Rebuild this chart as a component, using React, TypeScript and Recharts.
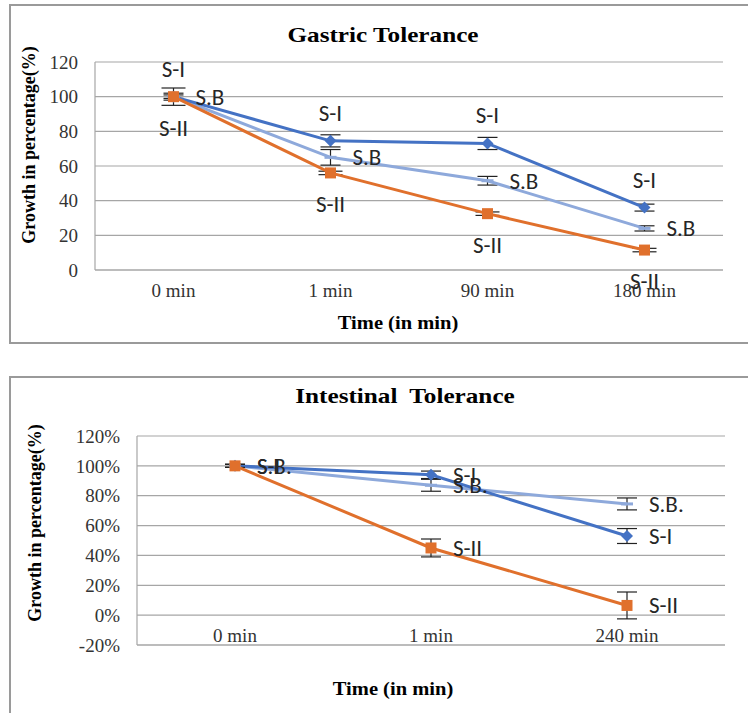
import React from 'react';
import { LineChart, Line, XAxis, YAxis, CartesianGrid, ErrorBar, LabelList } from 'recharts';

// ---------- Gastric tolerance data ----------
const gastricTimes = ['0 min', '1 min', '90 min', '180 min'];
const gastricSI = [100, 74.5, 73, 36];
const gastricSB = [100, 65, 51.5, 24];
const gastricSII = [100, 56, 32.5, 11.5];
const gastricErrSI = [1, 3.5, 3.5, 2];
const gastricErrSB = [2, 4.5, 2.5, 1.5];
const gastricErrSII = [5, 1, 1, 1];
const gastricLabelSI = ['S-I', 'S-I', 'S-I', 'S-I'];
const gastricLabelSB = ['S.B', 'S.B', 'S.B', 'S.B'];
const gastricLabelSII = ['S-II', 'S-II', 'S-II', 'S-II'];
const gastricYTicks = [0, 20, 40, 60, 80, 100, 120];

// ---------- Intestinal tolerance data ----------
const intestinalTimes = ['0 min', '1 min', '240 min'];
const intestinalSI = [100, 94, 53];
const intestinalSB = [100, 87, 74.5];
const intestinalSII = [100, 45, 6.5];
const intestinalErrSI = [1, 2.5, 5];
const intestinalErrSB = [1, 4, 4];
const intestinalErrSII = [1, 6, 9];
const intestinalLabelSI = ['S-I', 'S-I', 'S-I'];
const intestinalLabelSB = ['S.B.', 'S.B.', 'S.B.'];
const intestinalLabelSII = ['', 'S-II', 'S-II'];
const intestinalYTicks = [-20, 0, 20, 40, 60, 80, 100, 120];

const gastricData = gastricTimes.map((t, i) => ({
  time: t,
  si: gastricSI[i], sb: gastricSB[i], sii: gastricSII[i],
  siErr: gastricErrSI[i], sbErr: gastricErrSB[i], siiErr: gastricErrSII[i],
  siLabel: gastricLabelSI[i], sbLabel: gastricLabelSB[i], siiLabel: gastricLabelSII[i],
}));

const intestinalData = intestinalTimes.map((t, i) => ({
  time: t,
  si: intestinalSI[i], sb: intestinalSB[i], sii: intestinalSII[i],
  siErr: intestinalErrSI[i], sbErr: intestinalErrSB[i], siiErr: intestinalErrSII[i],
  siLabel: intestinalLabelSI[i], sbLabel: intestinalLabelSB[i], siiLabel: intestinalLabelSII[i],
}));

const C_SI = '#4472C4';
const C_SB = '#8EA9DB';
const C_SII = '#E0702C';
const GRID = '#A6A6A6';
const SERIF = '"Liberation Serif", "Times New Roman", serif';
const SANS = 'Carlito, Lato, "Open Sans", sans-serif';

const Diamond = (props: any) => {
  const { cx, cy, index } = props;
  if (cx == null || cy == null) return null;
  return <path key={`dia-${index}`} d={`M${cx},${cy - 6} L${cx + 6},${cy} L${cx},${cy + 6} L${cx - 6},${cy} Z`} fill={C_SI} />;
};
const Square = (props: any) => {
  const { cx, cy, index } = props;
  if (cx == null || cy == null) return null;
  return <rect key={`sq-${index}`} x={cx - 5.5} y={cy - 5.5} width={11} height={11} fill={C_SII} />;
};
const Dash = (props: any) => {
  const { cx, cy, index } = props;
  if (cx == null || cy == null) return null;
  return <rect key={`da-${index}`} x={cx - 6} y={cy - 1.5} width={12} height={3} fill={C_SB} />;
};

const makeLabel = (pos: 'above' | 'below' | 'right') => (props: any) => {
  const { x, y, value, index } = props;
  if (!value || x == null || y == null) return null;
  let tx = x, ty = y, anchor: any = 'middle';
  if (pos === 'above') ty = y - 28;
  if (pos === 'below') ty = y + 31;
  if (pos === 'right') { tx = x + 22; anchor = 'start'; }
  return (
    <text key={`lb-${pos}-${index}`} x={tx} y={ty} textAnchor={anchor} dominantBaseline="central"
      fontSize={23} fontFamily={SANS} fill="#262626">{value}</text>
  );
};

const xTick = (dy: number) => (props: any) => {
  const { x, y, payload, index } = props;
  return (
    <text key={`xt-${index}`} x={x} y={y + dy} textAnchor="middle" fontSize={19} fontFamily={SERIF} fill="#333">
      {payload.value}
    </text>
  );
};

const boxStyle: React.CSSProperties = {
  position: 'absolute', border: '2px solid #9a9a9a', boxSizing: 'border-box',
};

const titleStyle = (cx: number, cy: number, size: number, sx: number): React.CSSProperties => ({
  position: 'absolute', left: cx, top: cy, transform: `translate(-50%, -50%) scaleX(${sx})`,
  fontFamily: SERIF, fontWeight: 'bold', fontSize: size, color: '#000', whiteSpace: 'pre', lineHeight: 1,
});

const yTitleStyle = (cx: number, cy: number): React.CSSProperties => ({
  position: 'absolute', left: cx, top: cy, transform: 'translate(-50%, -50%) rotate(-90deg)',
  fontFamily: SERIF, fontWeight: 'bold', fontSize: 18, color: '#000', whiteSpace: 'nowrap', lineHeight: 1,
});

export default function App() {
  return (
    <div style={{ position: 'absolute', left: 0, top: 0, width: 748, height: 713, overflow: 'hidden', background: '#fff' }}>
      {/* Gastric chart box */}
      <div style={{ ...boxStyle, left: 9, top: 4, width: 760, height: 340 }} />
      <div style={{ position: 'absolute', left: 0, top: 0 }}>
        <LineChart width={748} height={345} data={gastricData} margin={{ top: 62, right: 25, bottom: 45, left: 35 }}>
          <CartesianGrid vertical={false} stroke={GRID} strokeWidth={1.2} />
          <XAxis dataKey="time" scale="band" axisLine={{ stroke: GRID }} tickLine={false} tickSize={0} tickMargin={0}
            height={30} interval={0} tick={xTick(27)} />
          <YAxis domain={[0, 120]} ticks={gastricYTicks} interval={0} axisLine={{ stroke: GRID, strokeWidth: 1.2 }} tickLine={false}
            tickSize={0} tickMargin={17} width={60} tick={{ fontSize: 19, fill: '#333', fontFamily: SERIF }} />
          <Line dataKey="sb" stroke={C_SB} strokeWidth={3} dot={Dash} activeDot={false} isAnimationActive={false}>
            <ErrorBar dataKey="sbErr" width={10} strokeWidth={1.2} stroke="#222" direction="y" />
            <LabelList dataKey="sbLabel" content={makeLabel('right')} />
          </Line>
          <Line dataKey="si" stroke={C_SI} strokeWidth={3} dot={Diamond} activeDot={false} isAnimationActive={false}>
            <ErrorBar dataKey="siErr" width={10} strokeWidth={1.2} stroke="#222" direction="y" />
            <LabelList dataKey="siLabel" content={makeLabel('above')} />
          </Line>
          <Line dataKey="sii" stroke={C_SII} strokeWidth={3} dot={Square} activeDot={false} isAnimationActive={false}>
            <ErrorBar dataKey="siiErr" width={12} strokeWidth={1.2} stroke="#222" direction="y" />
            <LabelList dataKey="siiLabel" content={makeLabel('below')} />
          </Line>
        </LineChart>
      </div>
      <div style={titleStyle(383, 35, 21, 1.2)}>Gastric Tolerance</div>
      <div style={titleStyle(398, 322, 19, 1.08)}>Time (in min)</div>
      <div style={yTitleStyle(29, 145)}>Growth in percentage(%)</div>

      {/* Intestinal chart box */}
      <div style={{ ...boxStyle, left: 9, top: 376, width: 760, height: 360 }} />
      <div style={{ position: 'absolute', left: 0, top: 360 }}>
        <LineChart width={748} height={353} data={intestinalData} margin={{ top: 76, right: 23, bottom: 38, left: 77 }}>
          <CartesianGrid vertical={false} stroke={GRID} strokeWidth={1.2} />
          <XAxis dataKey="time" scale="band" axisLine={{ stroke: GRID }} tickLine={false} tickSize={0} tickMargin={0}
            height={30} interval={0} tick={xTick(-3)} />
          <YAxis domain={[-20, 120]} ticks={intestinalYTicks} interval={0} axisLine={{ stroke: GRID, strokeWidth: 1.2 }} tickLine={false}
            tickSize={0} tickMargin={17} width={60} tickFormatter={(v: number) => `${v}%`}
            tick={{ fontSize: 19, fill: '#333', fontFamily: SERIF }} />
          <Line dataKey="sb" stroke={C_SB} strokeWidth={3} dot={Dash} activeDot={false} isAnimationActive={false}>
            <ErrorBar dataKey="sbErr" width={10} strokeWidth={1.2} stroke="#222" direction="y" />
            <LabelList dataKey="sbLabel" content={makeLabel('right')} />
          </Line>
          <Line dataKey="si" stroke={C_SI} strokeWidth={3} dot={Diamond} activeDot={false} isAnimationActive={false}>
            <ErrorBar dataKey="siErr" width={10} strokeWidth={1.2} stroke="#222" direction="y" />
            <LabelList dataKey="siLabel" content={makeLabel('right')} />
          </Line>
          <Line dataKey="sii" stroke={C_SII} strokeWidth={3} dot={Square} activeDot={false} isAnimationActive={false}>
            <ErrorBar dataKey="siiErr" width={10} strokeWidth={1.2} stroke="#222" direction="y" />
            <LabelList dataKey="siiLabel" content={makeLabel('right')} />
          </Line>
        </LineChart>
      </div>
      <div style={{ ...titleStyle(405, 396, 21, 1.2), wordSpacing: 5 }}>Intestinal Tolerance</div>
      <div style={titleStyle(393, 688, 19, 1.08)}>Time (in min)</div>
      <div style={yTitleStyle(35, 523)}>Growth in percentage(%)</div>
    </div>
  );
}
